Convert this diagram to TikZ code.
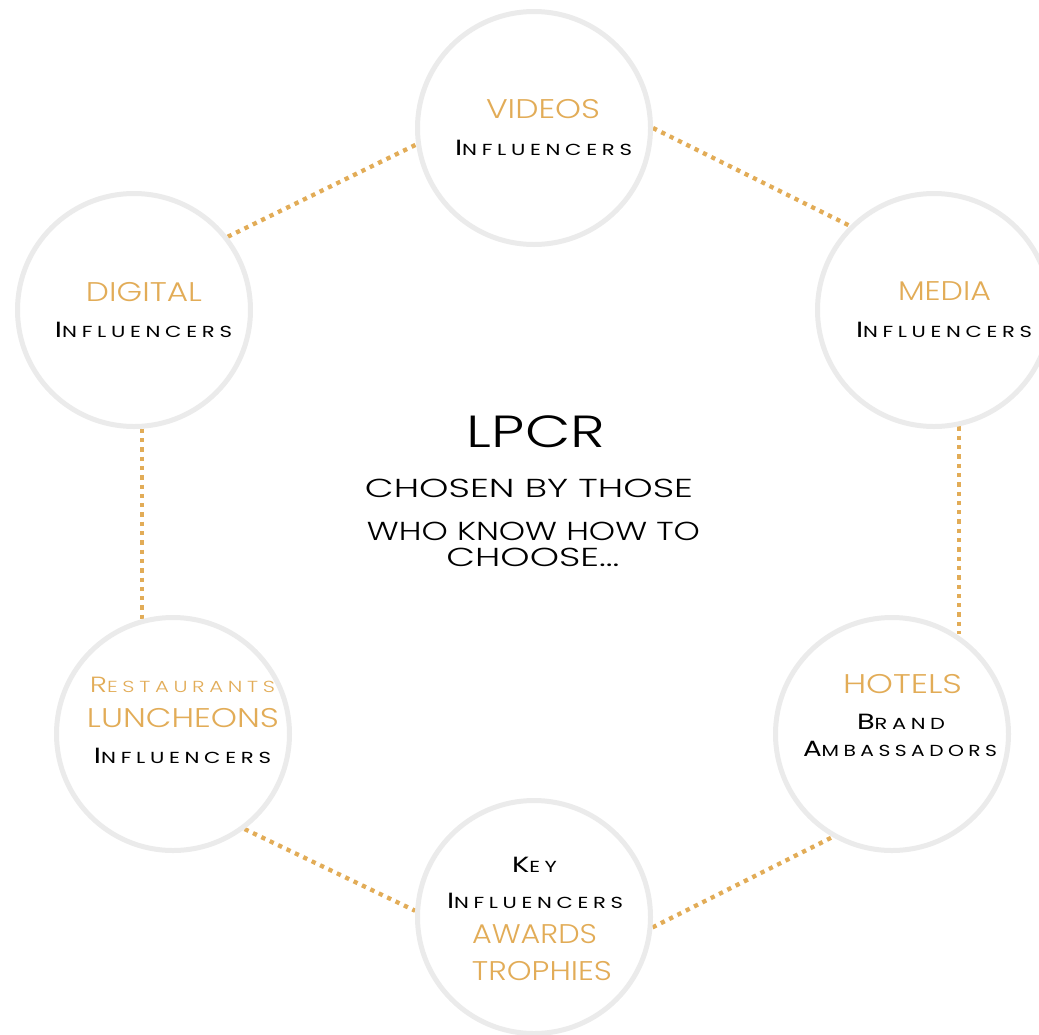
\documentclass[tikz,border=0pt]{standalone}
\usepackage{fontspec}
\IfFontExistsTF{Poppins Light}{\setmainfont{Poppins Light}}{\setmainfont{Poppins}}
\newfontfamily\regfont{Poppins}
\usetikzlibrary{calc}
\definecolor{gold}{HTML}{E2AC57}
\definecolor{ring}{HTML}{EBEBEB}
\pgfdeclarelayer{bg}
\pgfsetlayers{bg,main}
% set a line of text to an exact width, keeping its height
\newcommand\fitw[2]{\resizebox{#1}{\height}{#2}}
% spaced capitals with a taller first letter
\newcommand\capsc[2]{{\addfontfeature{LetterSpace=22}\fontsize{22}{22}\selectfont #1\fontsize{16}{16}\selectfont #2}}
\newcommand\blackcaps[2]{{\regfont\capsc{#1}{#2}}}
\newcommand\goldcaps[1]{{\fontsize{27}{27}\selectfont\color{gold}#1}}
\tikzset{
  ringnode/.style={circle, minimum size=233pt, inner sep=0pt, line width=5pt, draw=ring, fill=white},
  txt/.style={anchor=base, inner sep=0pt, outer sep=0pt},
  dotline/.style={draw=gold, line width=4.3pt, dash pattern=on 4.3pt off 5pt}
}
\begin{document}
\begin{tikzpicture}[x=1pt, y=-1pt]
\useasboundingbox (0,0) rectangle (1039,1034);
\clip (0,0) rectangle (1039,1034);

% the six rings
\node[ringnode] (videos) at (534,128) {};
\node[ringnode] (digital) at (134,310) {};
\node[ringnode] (media) at (934,310) {};
\node[ringnode] (rest) at (173,734) {};
\node[ringnode] (hotels) at (892,734) {};
\node[ringnode] (key) at (534,917) {};

% dotted links between neighbouring rings
\begin{pgfonlayer}{bg}
\draw[dotline] (digital.38) -- (videos.188);
\draw[dotline] (videos.0) -- (media.135);
\draw[dotline] (media.-78) -- (media.-78 |- hotels.57);
\draw[dotline] (digital.-86) -- (digital.-86 |- rest.105);
\draw[dotline] (rest.-53) -- (key.177.6);
\draw[dotline] (key.-5.2) -- (hotels.-120);
\end{pgfonlayer}

% ring labels
\node[txt] (videosA) at (543,118) {\fitw{114pt}{\goldcaps{VIDEOS}}};
\node[txt] (videosB) at (543.5,155) {\fitw{177pt}{\blackcaps{I}{NFLUENCERS}}};

\node[txt] (digitalA) at (144,301) {\fitw{116pt}{\goldcaps{DIGITAL}}};
\node[txt] (digitalB) at (143.5,337) {\fitw{177pt}{\blackcaps{I}{NFLUENCERS}}};

\node[txt] (mediaA) at (944.5,300.7) {\fitw{93pt}{\goldcaps{MEDIA}}};
\node[txt] (mediaB) at (944,337) {\fitw{176pt}{\blackcaps{I}{NFLUENCERS}}};

\node[txt] (restA) at (182.5,692) {\fitw{185pt}{\color{gold}\capsc{R}{ESTAURANTS}}};
\node[txt] (restB) at (183,727) {\fitw{192pt}{\goldcaps{LUNCHEONS}}};
\node[txt] (restC) at (182.5,763) {\fitw{177pt}{\blackcaps{I}{NFLUENCERS}}};

\node[txt] (hotelsA) at (902.5,693) {\fitw{119pt}{\goldcaps{HOTELS}}};
\node[txt] (hotelsB) at (901,729) {\fitw{88pt}{\blackcaps{B}{RAND}}};
\node[txt] (hotelsC) at (900,756) {\fitw{194pt}{\blackcaps{A}{MBASSADORS}}};

\node[txt] (keyA) at (534.5,872) {\fitw{45pt}{\blackcaps{K}{EY}}};
\node[txt] (keyB) at (535,908) {\fitw{176pt}{\blackcaps{I}{NFLUENCERS}}};
\node[txt] (keyC) at (534.5,943) {\fitw{125pt}{\goldcaps{AWARDS}}};
\node[txt] (keyD) at (542,980) {\fitw{140pt}{\goldcaps{TROPHIES}}};

% central statement
\node[txt] (lpcr) at (536,447) {\fitw{138pt}{\fontsize{45}{45}\selectfont LPCR}};
\node[txt] (claimA) at (529,497) {\fitw{328pt}{\fontsize{26}{26}\selectfont CHOSEN BY THOSE}};
\node[txt] (claimB) at (533.5,540) {\fitw{333pt}{\fontsize{26}{26}\selectfont WHO KNOW HOW TO}};
\node[txt] (claimC) at (533,566) {\fitw{173pt}{\fontsize{26}{26}\selectfont CHOOSE...}};
\end{tikzpicture}
\end{document}
